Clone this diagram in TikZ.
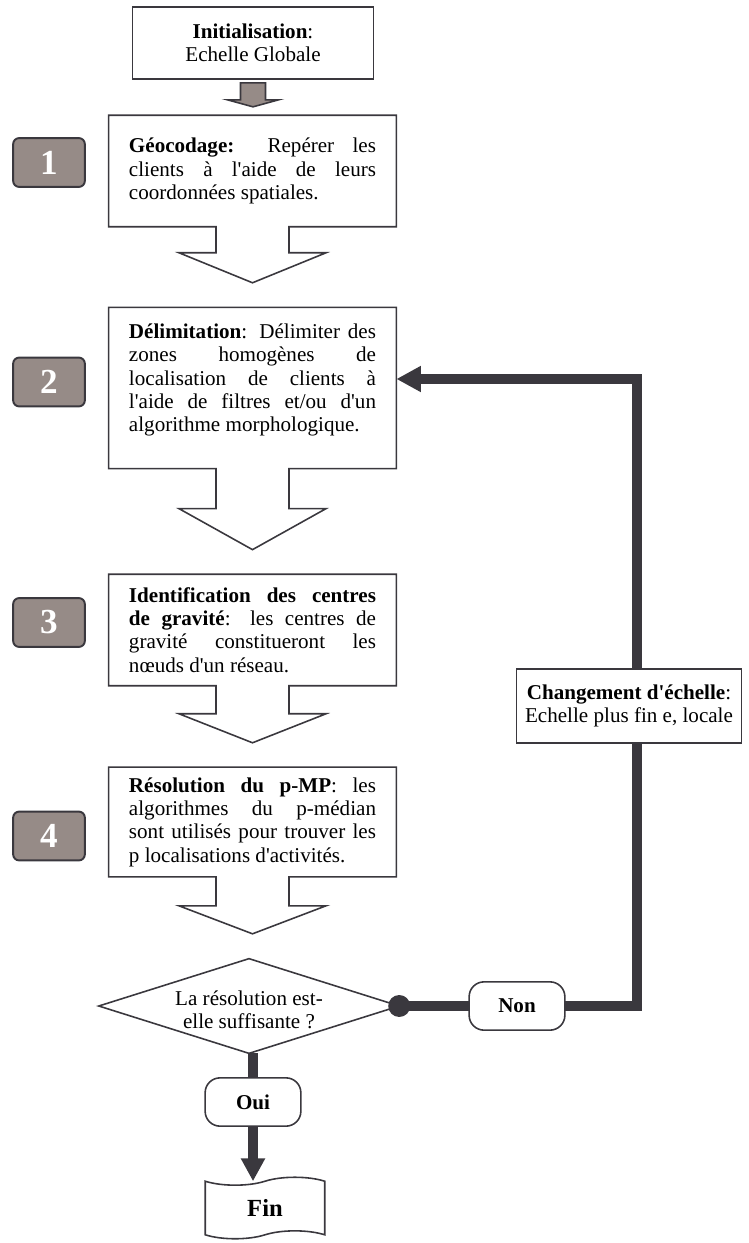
\documentclass[tikz,border=0pt]{standalone}
\usepackage{fontspec}
\setmainfont{Liberation Serif}[Ligatures=TeXOff]
\usepackage{tikz}
\usetikzlibrary{positioning, calc, arrows.meta, shapes.geometric, shapes.symbols}
\definecolor{darkline}{RGB}{58,56,62}
\definecolor{taupe}{RGB}{150,139,135}
\tolerance=10000 \hbadness=10000
\tikzset{
every node/.style={font=\fontsize{12}{13.3}\selectfont, outer sep=0pt}, % one text size for the whole chart
stepbox/.style={text width=140.6pt, inner xsep=11.6pt, align=justify, minimum width=163.8pt}, % text of a step, frame drawn by \stepframe
plainbox/.style={draw=darkline, line width=0.9pt, fill=white, align=center},
numbox/.style={draw=darkline, line width=1.1pt, fill=taupe, rounded corners=3.4pt, minimum width=40.8pt, minimum height=27.8pt, text=white, font=\fontsize{20}{22}\selectfont\bfseries},
answer/.style={plainbox, rounded corners=8.5pt, minimum width=54.5pt, minimum height=27.5pt, font=\fontsize{12}{13.3}\selectfont\bfseries},
flow/.style={draw=darkline, line width=6.2pt}, % the thick connectors
}
% frame of a step: box with a hollow arrow below it (#2 shaft, #3 head, in px)
\newcommand{\stepframe}[3]{
  \draw[darkline, line width=0.9pt] (#1.north west) -- (#1.north east) -- (#1.south east)
    -- ($(#1.south)+(36.5,0)$) -- ++(0,#2) -- ++(37,0) -- ++(-73.5,#3) -- ++(-73.5,-#3)
    -- ++(37,0) -- ++(0,-#2) -- (#1.south west) -- cycle;
}

\begin{document}
\begin{tikzpicture}[x=0.02cm, y=-0.02cm]
    \useasboundingbox (0,0) rectangle (748,1243);

    \node[plainbox, minimum width=137.2pt, minimum height=40.8pt] (init) at (253,43) {\textbf{Initialisation}:\\Echelle Globale};
    \draw[fill=taupe, draw=darkline, line width=0.9pt] ($(init.south)+(-12.5,4)$) -- ++(25,0) -- ++(0,17) -- ++(13,0)
        -- ++(-25.5,7) -- ++(-25.5,-7) -- ++(13,0) -- cycle;

    \node[stepbox, minimum height=63.5pt] (geo) at (252.5,171) {\textbf{Géocodage:} Repérer les\linebreak clients à l'aide de leurs\linebreak coordonnées spatiales.};
    \node[stepbox, minimum height=91.8pt] (delim) at (252.5,388) {\textbf{Délimitation}: Délimiter des\linebreak zones homogènes de\linebreak localisation de clients à\linebreak l'aide de filtres et/ou d'un\linebreak algorithme morphologique.\par\vspace{9pt}\nointerlineskip\hbox{}};
    \node[stepbox, minimum height=63.5pt] (ident) at (252.5,630) {\textbf{Identification des centres\linebreak de gravité}: les centres de\linebreak gravité constitueront les\linebreak nœuds d'un réseau.};
    \node[stepbox, minimum height=62.4pt] (resol) at (252.5,822) {\textbf{Résolution du p-MP}: les\linebreak algorithmes du p-médian\linebreak sont utilisés pour trouver les\linebreak p localisations d'activités.};
    \stepframe{geo}{26}{30}
    \stepframe{delim}{40}{41}
    \stepframe{ident}{28}{29}
    \stepframe{resol}{29}{28}

    \node[numbox] (n1) at (49,162.5) {1};
    \node[numbox] (n2) at (49,382) {2};
    \node[numbox] (n3) at (49,622.5) {3};
    \node[numbox] (n4) at (49,836) {4};

    \node[diamond, draw=darkline, line width=0.9pt, minimum width=171pt, minimum height=53.9pt, inner sep=0pt,
        label={[align=center, yshift=-2pt]center:La résolution est-\\elle suffisante ?}] (test) at (249,1006) {};
    \node[answer] (non) at (517,1006) {Non};
    \node[answer] (oui) at (253,1102) {Oui};
    \node[tape, draw=darkline, line width=0.9pt, minimum width=68pt, minimum height=35pt, tape bend height=4.5pt,
        font=\fontsize{14}{16}\selectfont\bfseries] (fin) at (265,1208) {Fin};

    \coordinate (turn) at (637,1006);
    \coordinate (back) at ($(delim.east)+(0,-9)$);
    \draw[flow] (test.east) -- (non.west);
    \draw[flow, -{Triangle[length=14pt,width=14pt]}] (non.east) -- (turn) |- (back);
    \draw[flow] (test.south -| oui.north) -- (oui.north);
    \draw[flow, line width=5.7pt, -{Triangle[length=13pt,width=13pt]}] (oui.south) -- (oui.south |- fin.north);
    \node[circle, fill=darkline, minimum size=12.5pt, inner sep=0pt] (dot) at (test.east) {};

    \node[plainbox, minimum width=128.1pt, minimum height=42pt] (chg) at (629,706) {\textbf{Changement d'échelle}:\\Echelle plus fin e, locale};
\end{tikzpicture}
\end{document}
